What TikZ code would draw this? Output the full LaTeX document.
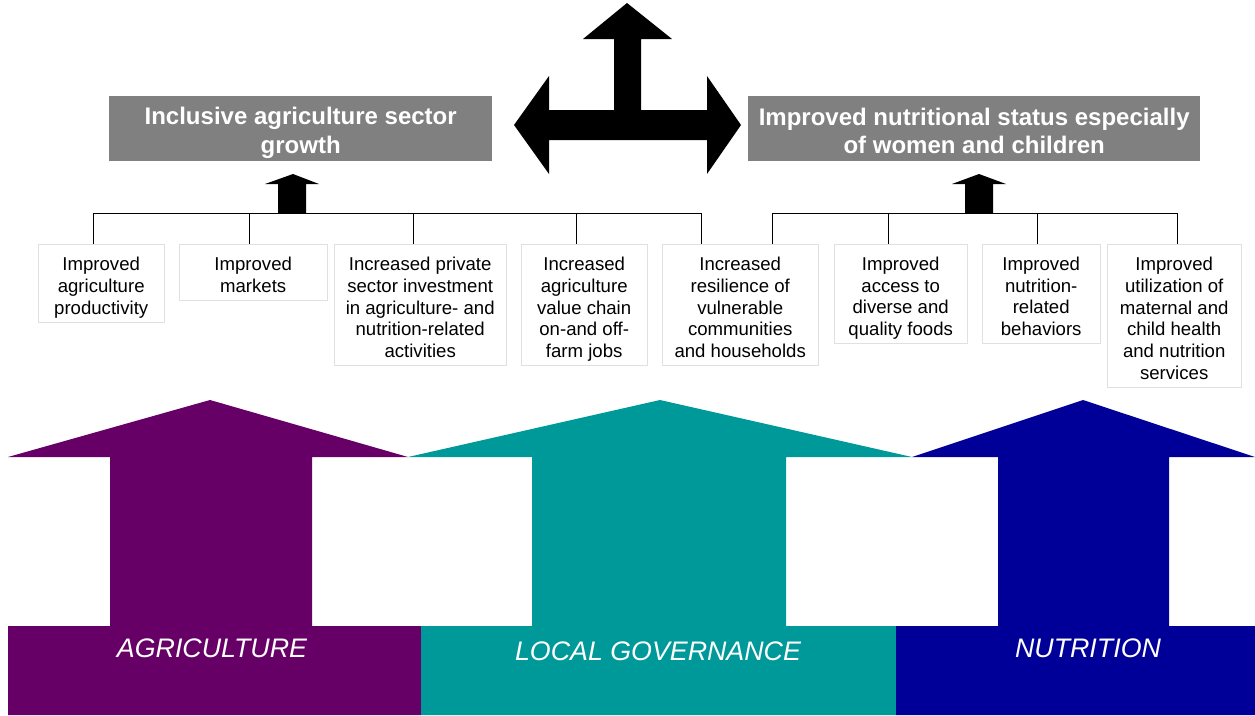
\documentclass[tikz,border=0pt]{standalone}
\usepackage{fontspec}
\setmainfont{Liberation Sans}
\usepackage{tikz}
\usetikzlibrary{positioning}

\definecolor{agripurple}{HTML}{660066}
\definecolor{govteal}{HTML}{009999}
\definecolor{nutnavy}{HTML}{000099}
\definecolor{goalgray}{HTML}{808080}
\definecolor{boxline}{HTML}{E0E0E0}

% struts that set where the text sits in its box
\newcommand{\boxtop}{\rule{0pt}{23.7pt}}
\newcommand{\boxbot}{\rule[-5pt]{0pt}{5pt}}
\newcommand{\goaltop}{\rule{0pt}{25pt}}
\newcommand{\goalbot}{\rule[-3.7pt]{0pt}{3.7pt}}

\begin{document}
\begin{tikzpicture}[x=1pt,y=-1pt]
		\tikzstyle{outcome}=[rectangle, draw=boxline, thin, anchor=north west, inner sep=0pt, align=center, font=\fontsize{18.6}{21.7}\selectfont]
		\tikzstyle{goal}=[rectangle, fill=goalgray, text=white, anchor=north west, inner sep=0pt, align=center, font=\fontsize{24}{28.7}\selectfont\bfseries]
		\tikzstyle{pillar}=[text=white, inner sep=0pt, font=\fontsize{26.8}{30}\selectfont\itshape]
		\tikzstyle{connect}=[thick, black]
		\tikzstyle{blockarrow}=[fill=black]
		\useasboundingbox (0,0) rectangle (1255,715);
		
		% bottom pillars
		\fill[agripurple] (8,715) -- (8,626) -- (110,626) -- (110,457) -- (8,457) -- (210,400) -- (408,457) -- (312,457) -- (312,626) -- (421,626) -- (421,715) -- cycle;
		\fill[govteal] (421,715) -- (421,626) -- (532,626) -- (532,457) -- (408,457) -- (660,400) -- (912,457) -- (786,457) -- (786,626) -- (896,626) -- (896,715) -- cycle;
		\fill[nutnavy] (896,715) -- (896,626) -- (998,626) -- (998,457) -- (912,457) -- (1083,400) -- (1255,457) -- (1169,457) -- (1169,626) -- (1255,626) -- (1255,715) -- cycle;
		\node[pillar] (agri) at (212,648) {AGRICULTURE};
		\node[pillar] (gov) at (658,651) {LOCAL GOVERNANCE};
		\node[pillar] (nut) at (1088,648) {NUTRITION};
		
		% goals
		\node[goal, minimum width=383pt, minimum height=65pt] (growth) at (109,96) {\goaltop Inclusive agriculture sector\\growth\goalbot};
		\node[goal, minimum width=452pt, minimum height=65pt] (status) at (748,96) {\goaltop Improved nutritional status especially\\of women and children\goalbot};
		
		% three-way arrow
		\fill[blockarrow] (627,3) -- (672,39) -- (641,39) -- (641,110) -- (707,110) -- (707,76) -- (741,125) -- (707,174) -- (707,140) -- (549,140) -- (549,174) -- (514,125) -- (549,76) -- (549,110) -- (614,110) -- (614,39) -- (583,39) -- cycle;
		
		% intermediate results
		\node[outcome, minimum width=126pt, minimum height=78pt] (b1) at (38,244) {\boxtop Improved\\agriculture\\productivity\boxbot};
		\node[outcome, minimum width=148pt, minimum height=56pt] (b2) at (179,244) {\boxtop Improved\\markets\boxbot};
		\node[outcome, minimum width=172pt, minimum height=121pt] (b3) at (334,244) {\boxtop Increased private\\sector investment\\in agriculture- and\\nutrition-related\\activities\boxbot};
		\node[outcome, minimum width=126pt, minimum height=121pt] (b4) at (521,244) {\boxtop Increased\\agriculture\\value chain\\on-and off-\\farm jobs\boxbot};
		\node[outcome, minimum width=156pt, minimum height=121pt] (b5) at (662,244) {\boxtop Increased\\resilience of\\vulnerable\\communities\\and households\boxbot};
		\node[outcome, minimum width=133pt, minimum height=99pt] (b6) at (834,244) {\boxtop Improved\\access to\\diverse and\\quality foods\boxbot};
		\node[outcome, minimum width=118pt, minimum height=99pt] (b7) at (982,244) {\boxtop Improved\\nutrition-\\related\\behaviors\boxbot};
		\node[outcome, minimum width=134pt, minimum height=143pt] (b8) at (1107,244) {\boxtop Improved\\utilization of\\maternal and\\child health\\and nutrition\\services\boxbot};
		
		% tree lines
		\coordinate (t1) at (93,213);
		\coordinate (t2) at (249,213);
		\coordinate (t3) at (413,213);
		\coordinate (t4) at (576,213);
		\coordinate (t5) at (701,213);
		\coordinate (t6) at (772,213);
		\coordinate (t7) at (888,213);
		\coordinate (t8) at (1037,213);
		\coordinate (t9) at (1177,213);
		\draw[connect] (t1) -- (t5);
		\draw[connect] (t6) -- (t9);
		\draw[connect] (t1) -- (t1 |- b1.north);
		\draw[connect] (t2) -- (t2 |- b2.north);
		\draw[connect] (t3) -- (t3 |- b3.north);
		\draw[connect] (t4) -- (t4 |- b4.north);
		\draw[connect] (t5) -- (t5 |- b5.north);
		\draw[connect] (t6) -- (t6 |- b5.north);
		\draw[connect] (t7) -- (t7 |- b6.north);
		\draw[connect] (t8) -- (t8 |- b7.north);
		\draw[connect] (t9) -- (t9 |- b8.north);
		
		% small arrows to goals
		\fill[blockarrow] (293,174) -- (319,184) -- (306,184) -- (306,213) -- (278,213) -- (278,184) -- (265,184) -- cycle;
		\fill[blockarrow] (979,174) -- (1006,184) -- (993,184) -- (993,213) -- (965,213) -- (965,184) -- (952,184) -- cycle;
	\end{tikzpicture}
\end{document}
